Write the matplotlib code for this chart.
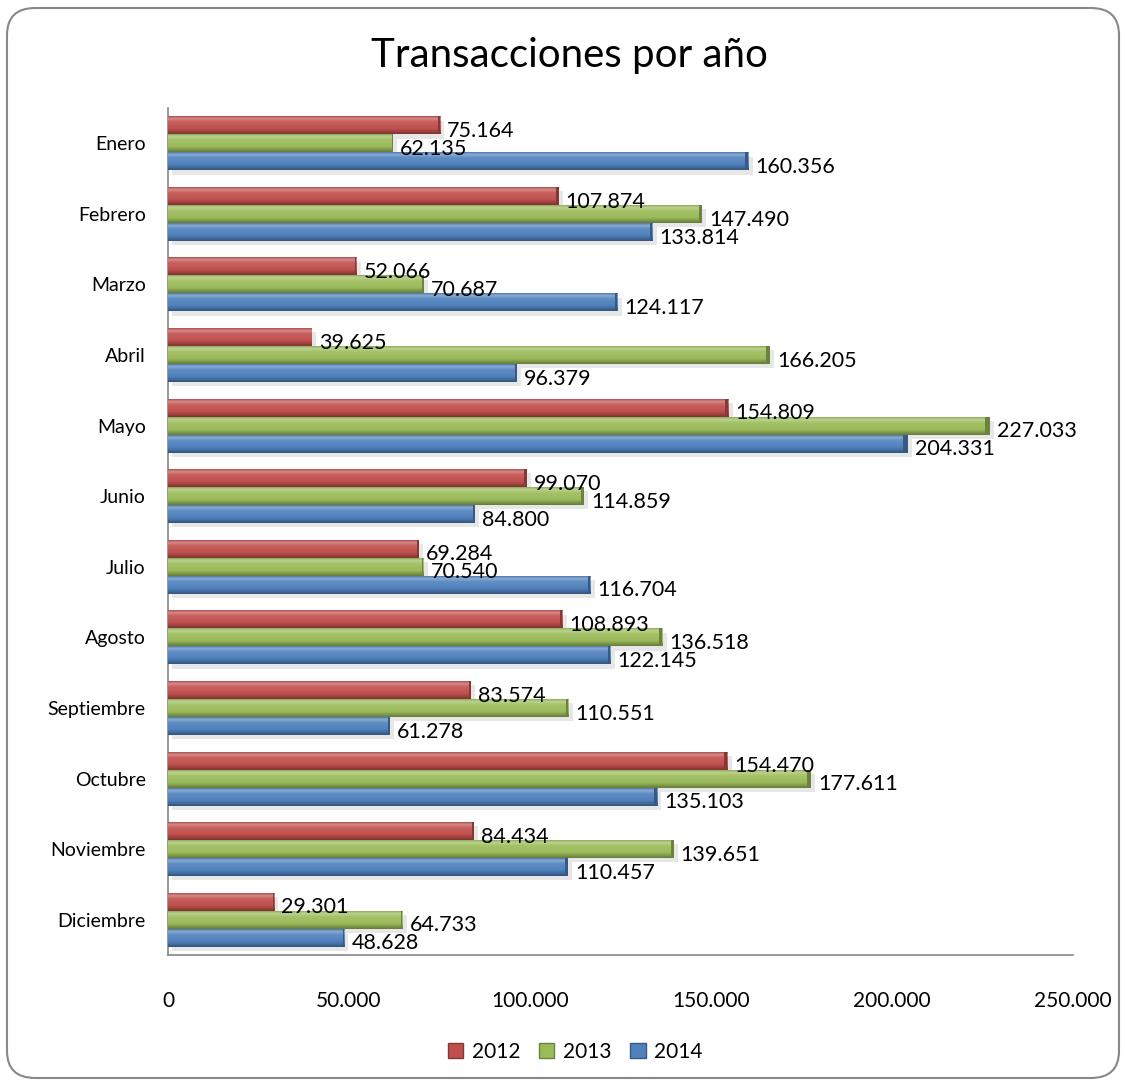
import matplotlib.pyplot as plt
import numpy as np
from matplotlib.colors import LinearSegmentedColormap, to_rgb
from matplotlib.patches import FancyBboxPatch, Patch

plt.rcParams['font.family'] = ['Lato', 'DejaVu Sans']

meses = ["Enero", "Febrero", "Marzo", "Abril", "Mayo", "Junio", "Julio",
         "Agosto", "Septiembre", "Octubre", "Noviembre", "Diciembre"]
anios = ["2012", "2013", "2014"]
v2012 = [75164, 107874, 52066, 39625, 154809, 99070, 69284, 108893, 83574, 154470, 84434, 29301]
v2013 = [62135, 147490, 70687, 166205, 227033, 114859, 70540, 136518, 110551, 177611, 139651, 64733]
v2014 = [160356, 133814, 124117, 96379, 204331, 84800, 116704, 122145, 61278, 135103, 110457, 48628]
xticks = [0, 50000, 100000, 150000, 200000, 250000]

colores = ["#C0504D", "#9BBB59", "#4F81BD"]


def fmt(v):
    return f"{v:,.0f}".replace(",", ".")


def shade(c, f):
    r = np.array(to_rgb(c))
    if f >= 0:
        return tuple(r + (1 - r) * f)
    return tuple(r * (1 + f))


def bevel(ax, bars, color):
    cmap = LinearSegmentedColormap.from_list(
        "b", [(0, shade(color, -0.1)), (0.12, shade(color, 0.35)), (0.3, shade(color, 0.1)),
              (0.7, color), (1, shade(color, -0.35))])
    grad = np.linspace(0, 1, 64).reshape(-1, 1)
    for b in bars:
        x0, y0 = b.get_x(), b.get_y()
        w, h = b.get_width(), b.get_height()
        im = ax.imshow(grad, cmap=cmap, aspect="auto", extent=(x0, x0 + w, y0 + h, y0),
                       origin="upper", zorder=3, interpolation="bicubic")
        im.set_clip_path(b)
        # dark right end
        ax.barh(y0 + h / 2, w * 0.006, left=x0 + w * 0.994, height=h,
                color=shade(color, -0.3), zorder=4, linewidth=0)


fig = plt.figure(figsize=(11.25, 10.85), dpi=100)
border = FancyBboxPatch((7 / 1125, 7 / 1085), 1112 / 1125, 1070 / 1085,
                        boxstyle="round,pad=0,rounding_size=0.025",
                        transform=fig.transFigure, facecolor="none",
                        edgecolor="#888888", linewidth=1.5, zorder=-10)
fig.patches.append(border)

ax = fig.add_axes([168 / 1125, 1 - 955 / 1085, (1073 - 168) / 1125, (955 - 108) / 1085])
ax.set_facecolor("none")

y = np.arange(len(meses))
h = 0.255
for k, (vals, col, lab) in enumerate(zip([v2012, v2013, v2014], colores, anios)):
    pos = y + (k - 1) * h
    # soft shadow
    ax.barh(pos + 0.06, vals, height=h, left=1200, color="#d8d8d8", alpha=0.6, zorder=1, linewidth=0)
    bars = ax.barh(pos, vals, height=h, color=col, zorder=2, linewidth=0, label=lab)
    bevel(ax, bars, col)
    for p, v in zip(pos, vals):
        ax.text(v + 2000, p + 0.08, fmt(v), va="center", ha="left", fontsize=15.5, color="black", zorder=5)

ax.set_xlim(0, 250000)
ax.set_ylim(11.5, -0.5)
ax.set_yticks(y)
ax.set_yticklabels(meses, fontsize=14)
ax.set_xticks(xticks)
ax.set_xticklabels([fmt(t) for t in xticks], fontsize=15)
ax.tick_params(axis="x", length=0, pad=26)
ax.tick_params(axis="y", length=0, pad=16)
for s in ["top", "right"]:
    ax.spines[s].set_visible(False)
for s in ["left", "bottom"]:
    ax.spines[s].set_color("#868686")
    ax.spines[s].set_linewidth(1.2)

fig.text(569 / 1125, 1 - 56 / 1085, "Transacciones por año", ha="center", va="center", fontsize=29)

handles = [Patch(facecolor=c, edgecolor=shade(c, -0.3), label=l) for c, l in zip(colores, anios)]
fig.legend(handles=handles, loc="center", bbox_to_anchor=(575 / 1125, 1 - 1052 / 1085), ncol=3,
           frameon=False, fontsize=15, handlelength=0.75, handleheight=0.75, handletextpad=0.4,
           columnspacing=0.9)

fig.savefig("out.png", dpi=100)
